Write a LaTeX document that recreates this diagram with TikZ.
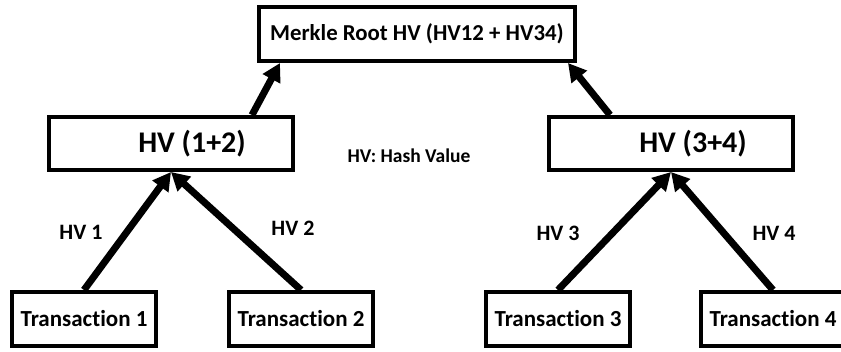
\documentclass[tikz,border=0pt]{standalone}
\usepackage{fontspec}
\setmainfont{Carlito}[Ligatures=NoCommon]
\usepackage{tikz}
\usetikzlibrary{arrows.meta, positioning}

\begin{document}
\begin{tikzpicture}
  [
    x=1pt, y=-1pt,
    Box/.style={rectangle, draw=black, line width=4pt, fill=white, font=\bfseries, inner sep=0pt},
    Root/.style={Box, minimum width=316pt, minimum height=54pt, font=\bfseries\fontsize{22.8}{26}\selectfont},
    Hash/.style={Box, minimum width=244pt, minimum height=53pt, font=\bfseries\fontsize{30}{34}\selectfont},
    Tx/.style={Box, minimum width=144pt, minimum height=54pt, font=\bfseries\fontsize{23}{26}\selectfont},
    Lbl/.style={font=\bfseries\fontsize{22}{26}\selectfont, inner sep=0pt},
    Up/.style={-{Triangle[length=18pt, width=19pt]}, line width=7pt}
  ]
  \useasboundingbox (0,0) rectangle (841,351);
  % Nodes
  \node[Root] (root) at (417, 34) {Merkle Root HV (HV12 + HV34)};
  \node[Hash] (hv12) at (171, 143.5) {\hspace*{42pt}HV (1+2)};
  \node[Hash] (hv34) at (671, 143.5) {\hspace*{44pt}HV (3+4)};
  \node[Tx] (tx1) at (84, 319) {Transaction 1};
  \node[Tx] (tx2) at (301, 319) {Transaction 2};
  \node[Tx] (tx3) at (558, 319) {Transaction 3};
  \node[Tx] (tx4) at (773, 319) {Transaction 4};
  \node[Lbl] (l1) at (81, 232) {HV 1};
  \node[Lbl] (l2) at (293, 228) {HV 2};
  \node[Lbl] (l3) at (558, 233) {HV 3};
  \node[Lbl] (l4) at (774, 233) {HV 4};
  \node[Lbl, font=\bfseries\fontsize{19.5}{23}\selectfont] (key) at (409, 156) {HV: Hash Value};
  % Lines
  \draw[Up] (tx1.north) -- (hv12.south);
  \draw[Up] (tx2.north) -- (hv12.south);
  \draw[Up] (tx3.north) -- (hv34.south);
  \draw[Up] (tx4.north) -- (hv34.south);
  \draw[Up] ([xshift=81pt]hv12.north) -- ([xshift=-137pt]root.south);
  \draw[Up] ([xshift=-61pt]hv34.north) -- ([xshift=151pt]root.south);
\end{tikzpicture}
\end{document}
